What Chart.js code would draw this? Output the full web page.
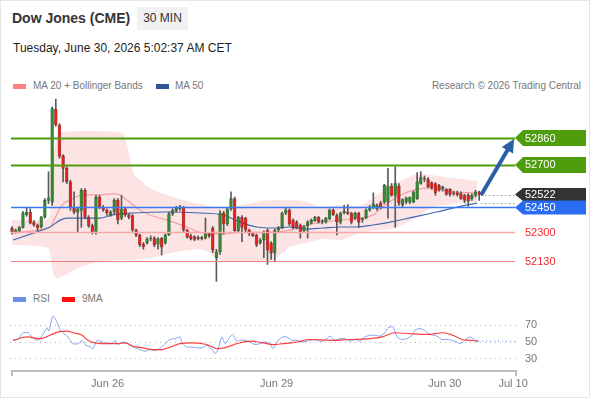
<!DOCTYPE html>
<html>
<head>
<meta charset="utf-8">
<script src="https://cdn.jsdelivr.net/npm/chart.js@4/dist/chart.umd.min.js"></script>
<style>
  body { margin:0; background:#fff; font-family:"Liberation Sans", Arial, sans-serif; }
  #card { position:absolute; left:0; top:0; width:588px; height:396px; border:1px solid #e6e6e6; }
  .abs { position:absolute; white-space:nowrap; }
  #title { left:12px; top:10px; font-size:14px; font-weight:bold; color:#333; }
  #period { left:137px; top:7px; width:51px; height:23px; line-height:23px; text-align:center; background:#f1f1f1; font-size:12px; color:#333; }
  #stamp { left:13px; top:41px; font-size:12px; color:#222; }
  .leg { font-size:10px; color:#777; line-height:12px; }
  .sw { position:absolute; width:13px; height:5px; }
  canvas { position:absolute; left:0; }
</style>
</head>
<body>
<div id="card"></div>
<div class="abs" id="title">Dow Jones (CME)</div>
<div class="abs" id="period">30 MIN</div>
<div class="abs" id="stamp">Tuesday, June 30, 2026 5:02:37 AM CET</div>

<div class="sw" style="left:13px; top:84px; background:#ff8080;"></div>
<div class="abs leg" style="left:33px; top:80px;">MA 20 + Bollinger Bands</div>
<div class="sw" style="left:156px; top:84px; background:#2f5597;"></div>
<div class="abs leg" style="left:175px; top:80px;">MA 50</div>
<div class="abs leg" style="right:9px; top:80px;">Research © 2026 Trading Central</div>

<div class="sw" style="left:13px; top:297px; background:#6a8ee8;"></div>
<div class="abs leg" style="left:33px; top:293px;">RSI</div>
<div class="sw" style="left:62px; top:297px; background:#ff1010;"></div>
<div class="abs leg" style="left:82px; top:293px;">9MA</div>

<canvas id="price" width="590" height="190" style="top:95px;"></canvas>
<canvas id="rsi" width="590" height="110" style="top:290px;"></canvas>

<script>
// 30 min candles, one per bar index
const candleOpen = [
  52325,52302,52310,52330,52405,52421,52361,52344,52332,52391,
  52490,52480,53030,52937,52755,52680,52600,52445,52420,52430,
  52550,52390,52340,52300,52510,52450,52433,52405,52420,52492,
  52385,52440,52403,52400,52314,52284,52230,52237,52262,52266,
  52230,52266,52237,52285,52410,52430,52440,52450,52314,52280,
  52275,52262,52270,52266,52290,52326,52150,52185,52415,52350,
  52440,52500,52310,52390,52385,52314,52296,52284,52237,52255,
  52314,52237,52177,52314,52326,52415,52433,52373,52360,52344,
  52310,52340,52355,52370,52390,52365,52360,52380,52433,52400,
  52360,52415,52420,52415,52385,52415,52375,52385,52433,52450,
  52440,52474,52480,52480,52575,52520,52575,52465,52480,52480,
  52480,52500,52590,52620,52615,52595,52590,52580,52560,52555,
  52555,52535,52535,52530,52520,52520,52500,52520,52540
];
const candleHigh = [
  52335,52320,52335,52425,52445,52440,52370,52350,52395,52500,
  52660,53045,53090,52945,52760,52690,52610,52540,52450,52560,
  52560,52400,52350,52520,52520,52460,52440,52430,52500,52500,
  52520,52450,52410,52405,52320,52290,52240,52270,52280,52275,
  52270,52270,52290,52420,52440,52455,52460,52455,52320,52290,
  52280,52280,52278,52385,52300,52335,52200,52430,52425,52445,
  52540,52510,52395,52400,52390,52320,52300,52290,52265,52310,
  52320,52245,52320,52335,52420,52450,52440,52380,52370,52350,
  52340,52370,52380,52395,52395,52375,52390,52440,52440,52410,
  52420,52460,52465,52420,52420,52420,52385,52440,52460,52535,
  52470,52485,52585,52680,52590,52690,52590,52500,52510,52510,
  52545,52655,52660,52635,52625,52600,52595,52585,52575,52560,
  52560,52545,52545,52540,52525,52530,52530,52550,52545
];
const candleLow = [
  52290,52295,52300,52325,52395,52350,52335,52310,52325,52385,
  52470,52460,52930,52740,52600,52590,52430,52410,52300,52330,
  52380,52330,52290,52290,52440,52425,52400,52395,52410,52350,
  52375,52395,52380,52305,52275,52215,52200,52230,52250,52215,
  52200,52166,52230,52280,52400,52420,52430,52300,52265,52255,
  52250,52255,52255,52260,52270,52180,52010,52170,52290,52340,
  52430,52300,52300,52245,52300,52280,52275,52215,52230,52150,
  52110,52140,52125,52300,52320,52405,52340,52320,52320,52265,
  52300,52266,52350,52365,52355,52350,52355,52375,52400,52285,
  52350,52410,52405,52350,52375,52330,52360,52380,52425,52440,
  52430,52440,52470,52385,52515,52330,52460,52450,52470,52470,
  52475,52495,52585,52600,52565,52555,52520,52545,52545,52520,
  52515,52520,52515,52495,52475,52455,52490,52510,52490
];
const candleClose = [
  52302,52314,52330,52415,52421,52355,52344,52326,52391,52490,
  52505,53035,52937,52750,52680,52600,52450,52420,52440,52550,
  52390,52340,52300,52510,52450,52433,52415,52420,52492,52375,
  52440,52403,52390,52314,52284,52225,52215,52260,52266,52225,
  52262,52213,52285,52410,52432,52445,52452,52314,52272,52262,
  52258,52270,52262,52290,52280,52195,52185,52415,52350,52440,
  52500,52310,52390,52330,52314,52295,52280,52225,52255,52300,
  52195,52180,52314,52326,52415,52433,52350,52330,52330,52302,
  52335,52361,52373,52390,52361,52370,52385,52433,52405,52360,
  52415,52425,52412,52360,52415,52360,52385,52433,52450,52470,
  52462,52450,52580,52575,52520,52590,52474,52495,52505,52510,
  52540,52600,52625,52615,52570,52565,52535,52550,52570,52525,
  52525,52530,52522,52500,52490,52485,52520,52540,52522
];

// Bollinger bands (position in bars, price)
const bandPos   = [0, 9, 10.4, 11.2, 12.3, 14, 19.5, 24.1, 28.8, 30.4, 31.5, 33.2, 35.1, 37.8, 42.5, 46.8, 51.5, 57.8, 67.1, 71.5, 76.2, 80.8, 85.2, 89.9, 94.5, 98.1, 103.6, 107.1, 111.8, 114.8, 120.8, 127.4];
const bandUpper = [52373, 52373, 52403, 52700, 52860, 52896, 52902, 52902, 52896, 52890, 52818, 52658, 52611, 52563, 52522, 52492, 52468, 52445, 52480, 52492, 52492, 52480, 52450, 52462, 52456, 52492, 52575, 52611, 52646, 52640, 52623, 52605];
const bandLower = [52225, 52213, 52183, 52065, 52029, 52041, 52100, 52124, 52136, 52136, 52136, 52136, 52142, 52148, 52172, 52189, 52201, 52130, 52124, 52136, 52213, 52237, 52261, 52255, 52290, 52308, 52320, 52344, 52403, 52445, 52468, 52480];

const ma20Pos = [0.3, 10.4, 11.9, 13.7, 15.9, 19.5, 23.3, 27.7, 29.6, 31.5, 34.2, 37.8, 42.5, 47.9, 51.5, 57.8, 62.5, 71.5, 76.2, 80.8, 85.2, 89.9, 94.5, 98.9, 101.6, 105.5, 109.9, 113.7, 120.8, 127.4];
const ma20Val = [52302, 52330, 52391, 52462, 52492, 52522, 52522, 52528, 52522, 52492, 52445, 52403, 52373, 52332, 52300, 52290, 52300, 52302, 52314, 52344, 52361, 52373, 52385, 52403, 52450, 52510, 52551, 52563, 52540, 52534];

const ma50Pos = [0.3, 5.8, 10.4, 13.2, 15.1, 19.5, 24.1, 27.4, 33.2, 42.5, 51.5, 57.8, 62.5, 67.1, 71.5, 76.2, 80.8, 85.2, 89.9, 94.5, 98.9, 103.6, 109.9, 116.4, 121.9, 127.4];
const ma50Val = [52255, 52296, 52332, 52373, 52385, 52385, 52385, 52403, 52415, 52421, 52415, 52403, 52361, 52332, 52326, 52332, 52320, 52326, 52332, 52332, 52344, 52361, 52391, 52421, 52450, 52474];

// RSI panel
const rsiPos = [0.3,1.6,3.0,4.4,5.5,7.1,8.5,9.6,10.1,11.2,
  12.3,13.2,14.5,15.3,16.7,18.1,19.2,20.0,21.4,22.2,
  23.3,24.7,26.0,27.4,28.2,29.0,30.4,31.8,33.2,35.1,
  36.4,37.8,39.2,40.5,41.9,43.3,44.7,46.0,46.8,47.9,
  49.3,50.7,52.1,53.4,54.8,55.6,56.4,57.5,58.4,59.7,
  60.5,61.6,62.5,63.8,65.2,66.6,67.9,69.3,70.7,71.5,
  72.9,74.2,75.3,76.7,78.1,79.7,81.6,83.0,84.4,85.8,
  87.1,88.5,89.9,91.2,92.6,94.0,95.3,96.7,98.1,99.5,
  100.8,102.2,103.0,104.4,105.5,106.8,108.2,109.6,110.4,111.8,
  113.2,114.5,116.4,117.8,119.5,121.4,122.7,124.1,125.5,126.8,
  127.7];
const rsiVal = [52,53,61,61,56,52,59,67,63,81,
  74,64,59,56,48,48,52,47,44,42,
  52,50,49,48,52,47,50,48,44,41,
  39,41,40,42,48,53,54,56,48,44,
  44,43,43,46,41,36,41,56,48,56,
  59,51,52,52,50,47,48,50,48,42,
  52,56,56,52,52,50,52,53,51,52,
  57,52,54,54,51,53,51,56,58,58,
  57,61,67,68,56,53,54,58,64,66,
  63,59,57,53,53,51,48,52,56,52,
  51];
const rsiMaPos = [0.3,4.1,7.7,10.4,12.6,15.1,16.7,19.2,20.8,22.7,
  26.0,28.8,31.0,33.2,35.9,38.6,41.1,43.3,46.0,49.6,
  53.4,56.2,58.9,61.6,65.2,68.8,71.5,74.2,76.2,78.1,
  81.6,87.1,92.6,98.1,101.4,104.9,109.0,113.7,118.1,120.8,
  123.3,125.5,127.7];
const rsiMaVal = [52,56,54,58,62,63,61,58,52,49,
  48,48,49,45,43,41,41,44,48,49,
  47,42,44,48,51,49,47,48,49,50,
  53,52,53,54,56,61,60,59,61,58,
  53,52,51];

const xTickPos = [26.2, 72.5, 118.6, 137.3];
const xTickLabels = ['Jun 26', 'Jun 29', 'Jun 30', 'Jul 10'];
const rsiTicks = [30, 50, 70];

const resistances = [52860, 52700];
const pivot = 52450;
const supports = [52300, 52130];
const lastPrice = 52522;

Chart.defaults.font.family = '"Liberation Sans", Arial, sans-serif';

const X_MIN = -0.55, X_MAX = 138.36;
const idx = candleOpen.map((_, i) => i);
const pts = (pos, vals) => pos.map((x, i) => ({x: x, y: vals[i]}));

function tag(ctx, x0, yc, h, color, text) {
  ctx.beginPath();
  ctx.moveTo(x0, yc);
  ctx.lineTo(x0 + 8, yc - h / 2);
  ctx.lineTo(x0 + 71, yc - h / 2);
  ctx.lineTo(x0 + 71, yc + h / 2);
  ctx.lineTo(x0 + 8, yc + h / 2);
  ctx.closePath();
  ctx.fillStyle = color;
  ctx.fill();
  ctx.fillStyle = '#fff';
  ctx.fillText(text, x0 + 10, yc + 0.5);
}

const levelsPlugin = {
  id: 'levels',
  afterDatasetsDraw(chart) {
    const {ctx, chartArea, scales: {x, y}} = chart;
    const x1 = x.getPixelForValue(0) - 1;
    const tagX = chartArea.right - 2;
    ctx.save();
    const line = (v, color, w) => {
      const py = Math.round(y.getPixelForValue(v)) + 0.5;
      ctx.strokeStyle = color;
      ctx.lineWidth = w;
      ctx.beginPath();
      ctx.moveTo(x1, py);
      ctx.lineTo(tagX, py);
      ctx.stroke();
    };
    line(supports[0], '#f6a9a9', 1.5);
    line(supports[1], '#f07f7f', 1);
    line(pivot, '#3a7af5', 1.5);
    resistances.forEach(v => line(v, '#4e9d0c', 2));

    // dotted connectors from the last bar to the tags
    const xl = x.getPixelForValue(idx.length - 1) + 2;
    ctx.setLineDash([1, 3]);
    ctx.strokeStyle = '#666';
    ctx.lineWidth = 1;
    [lastPrice, ma50Val[ma50Val.length - 1]].forEach(v => {
      const py = Math.round(y.getPixelForValue(v)) + 0.5;
      ctx.beginPath(); ctx.moveTo(xl, py); ctx.lineTo(tagX, py); ctx.stroke();
    });
    ctx.setLineDash([]);

    // target arrow
    const sx = xl, sy = y.getPixelForValue(lastPrice);
    const tx = tagX - 1, ty = y.getPixelForValue(resistances[0]) + 1;
    const dx = tx - sx, dy = ty - sy, len = Math.hypot(dx, dy);
    const ux = dx / len, uy = dy / len;
    const bx = tx - ux * 13, by = ty - uy * 13;
    ctx.strokeStyle = '#2c5ea8';
    ctx.fillStyle = '#2c5ea8';
    ctx.lineWidth = 4;
    ctx.beginPath(); ctx.moveTo(sx, sy); ctx.lineTo(bx + ux * 2, by + uy * 2); ctx.stroke();
    ctx.beginPath();
    ctx.moveTo(tx, ty);
    ctx.lineTo(bx - uy * 6.5, by + ux * 6.5);
    ctx.lineTo(bx + uy * 6.5, by - ux * 6.5);
    ctx.closePath();
    ctx.fill();

    // value tags
    ctx.font = '11px "Liberation Sans", Arial, sans-serif';
    ctx.textBaseline = 'middle';
    ctx.textAlign = 'left';
    resistances.forEach(v => tag(ctx, tagX, y.getPixelForValue(v), 16, '#4e9d0c', String(v)));
    tag(ctx, tagX, y.getPixelForValue(lastPrice) - 0.5, 13, '#333333', String(lastPrice));
    tag(ctx, tagX, y.getPixelForValue(pivot) + 0.5, 14, '#2a6cf2', String(pivot));
    ctx.fillStyle = '#ee2a2a';
    supports.forEach(v => ctx.fillText(String(v), tagX + 10, y.getPixelForValue(v) + 0.5));
    ctx.restore();
  }
};

new Chart(document.getElementById('price'), {
  type: 'bar',
  data: {
    datasets: [
      { type: 'line', data: pts(bandPos, bandUpper), borderWidth: 0, pointRadius: 0, fill: '+1',
        backgroundColor: 'rgba(252,205,205,0.55)', cubicInterpolationMode: 'monotone', order: 6 },
      { type: 'line', data: pts(bandPos, bandLower), borderWidth: 0, pointRadius: 0, fill: false,
        cubicInterpolationMode: 'monotone', order: 7 },
      { type: 'line', data: pts(ma20Pos, ma20Val), borderColor: '#f4a0a0', borderWidth: 1.2, pointRadius: 0,
        cubicInterpolationMode: 'monotone', order: 4 },
      { type: 'line', data: pts(ma50Pos, ma50Val), borderColor: '#3d6bb3', borderWidth: 1.2, pointRadius: 0,
        cubicInterpolationMode: 'monotone', order: 3 },
      { data: idx.map(i => ({x: i, y: [candleLow[i], candleHigh[i]]})), backgroundColor: '#5a5a5a',
        barThickness: 1, grouped: false, order: 2 },
      { data: idx.map(i => ({x: i, y: [candleOpen[i], candleClose[i]]})),
        backgroundColor: idx.map(i => candleClose[i] >= candleOpen[i] ? '#2e8b2e' : '#e3201b'),
        borderColor: 'rgba(0,0,0,0.45)', borderWidth: 0.6, borderSkipped: false,
        barThickness: 3, grouped: false, order: 1 }
    ]
  },
  options: {
    responsive: false,
    animation: false,
    layout: { padding: { left: 10, right: 73, top: 0, bottom: 0 } },
    plugins: { legend: { display: false }, tooltip: { enabled: false } },
    scales: {
      x: { type: 'linear', min: X_MIN, max: X_MAX, display: false, offset: false },
      y: { min: 51988, max: 53115, display: false }
    }
  },
  plugins: [levelsPlugin]
});

const rsiAxisPlugin = {
  id: 'rsiAxis',
  afterDraw(chart) {
    const {ctx, chartArea, scales: {x, y}} = chart;
    ctx.save();
    // current RSI dotted extension
    const lx = x.getPixelForValue(rsiPos[rsiPos.length - 1]);
    const ly = y.getPixelForValue(rsiVal[rsiVal.length - 1]);
    ctx.setLineDash([1, 3]);
    ctx.strokeStyle = '#6a8ee8';
    ctx.lineWidth = 1;
    ctx.beginPath(); ctx.moveTo(lx, ly); ctx.lineTo(chartArea.right, ly); ctx.stroke();
    ctx.setLineDash([]);
    // axis line with end ticks
    const b = chartArea.bottom;
    const l = x.getPixelForValue(0), r = chartArea.right - 1;
    ctx.strokeStyle = '#bcbcbc';
    ctx.lineWidth = 2;
    ctx.beginPath();
    ctx.moveTo(l, b + 5); ctx.lineTo(l, b); ctx.lineTo(r, b); ctx.lineTo(r, b + 5);
    ctx.stroke();
    ctx.restore();
  }
};

new Chart(document.getElementById('rsi'), {
  type: 'line',
  data: {
    datasets: [
      { data: pts(rsiMaPos, rsiMaVal), borderColor: 'rgba(255,20,20,0.8)', borderWidth: 1.2, pointRadius: 0,
        cubicInterpolationMode: 'monotone', order: 1 },
      { data: pts(rsiPos, rsiVal), borderColor: '#86a3ee', borderWidth: 1, pointRadius: 0, tension: 0.2, order: 2 }
    ]
  },
  options: {
    responsive: false,
    animation: false,
    layout: { padding: { left: 10, right: 0, top: 10, bottom: 0 } },
    plugins: { legend: { display: false }, tooltip: { enabled: false } },
    scales: {
      x: {
        type: 'linear', min: X_MIN, max: X_MAX, offset: false,
        grid: { display: false, drawTicks: false },
        border: { display: false },
        afterBuildTicks: (axis) => { axis.ticks = xTickPos.map(v => ({value: v})); },
        afterFit: (axis) => { axis.height = 29; },
        ticks: { autoSkip: false, maxRotation: 0, minRotation: 0, padding: 6, color: '#777',
          font: { size: 11 }, callback: (v, i) => xTickLabels[i] }
      },
      y: {
        position: 'right', min: 15.56, max: 94.44,
        grid: { color: '#b5b5b5', lineWidth: 1, drawTicks: false },
        border: { display: false, dash: [1, 4] },
        afterBuildTicks: (axis) => { axis.ticks = rsiTicks.map(v => ({value: v})); },
        afterFit: (axis) => { axis.width = 73; },
        ticks: { padding: 8, color: '#777', font: { size: 11 } }
      }
    }
  },
  plugins: [rsiAxisPlugin]
});
</script>
</body>
</html>
